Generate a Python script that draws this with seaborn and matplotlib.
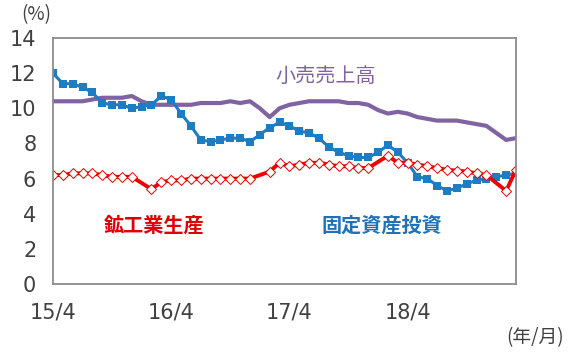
import numpy as np
import pandas as pd
import matplotlib
matplotlib.use("Agg")
import matplotlib.pyplot as plt
import seaborn as sns

# monthly series, 2015/4 .. 2019/3 (48 months)
months = list(range(48))
tick_pos = [0, 12, 24, 36]
tick_labels = ["15/4", "16/4", "17/4", "18/4"]

retail = [10.4, 10.4, 10.4, 10.4, 10.5, 10.6, 10.6, 10.6, 10.7, 10.4, 10.2, 10.2,
          10.2, 10.2, 10.2, 10.3, 10.3, 10.3, 10.4, 10.3, 10.4, 10.0, 9.5, 10.0,
          10.2, 10.3, 10.4, 10.4, 10.4, 10.4, 10.3, 10.3, 10.2, 9.9, 9.7, 9.8,
          9.7, 9.5, 9.4, 9.3, 9.3, 9.3, 9.2, 9.1, 9.0, 8.6, 8.2, 8.3]

fai = [12.0, 11.4, 11.4, 11.2, 10.9, 10.3, 10.2, 10.2, 10.0, 10.1, 10.2, 10.7,
       10.5, 9.7, 9.0, 8.2, 8.1, 8.2, 8.3, 8.3, 8.1, 8.5, 8.9, 9.2,
       9.0, 8.7, 8.6, 8.3, 7.8, 7.5, 7.3, 7.2, 7.2, 7.5, 7.9, 7.5,
       6.9, 6.1, 6.0, 5.6, 5.3, 5.45, 5.7, 5.9, 6.0, 6.1, 6.2, 6.3]

# January figures are not released (None)
ip = [6.2, 6.2, 6.3, 6.3, 6.3, 6.2, 6.1, 6.1, 6.1, None, 5.4, 5.8,
      5.9, 5.9, 6.0, 6.0, 6.0, 6.0, 6.0, 6.0, 6.0, None, 6.4, 6.9,
      6.7, 6.8, 6.9, 6.9, 6.8, 6.7, 6.7, 6.6, 6.6, None, 7.3, 6.9,
      6.9, 6.8, 6.7, 6.6, 6.5, 6.45, 6.4, 6.3, 6.2, None, 5.3, 6.5]

df = pd.DataFrame({"month": months, "retail": retail, "fai": fai,
                   "ip": pd.to_numeric(pd.Series(ip), errors="coerce")})

c_purple = "#8064A2"
c_blue = "#1C7CC4"
c_red = "#F00000"
c_text = "#404040"

sns.set_style("white")
plt.rcParams["font.family"] = ["Noto Sans CJK JP", "DejaVu Sans"]

fig = plt.figure(figsize=(5.69, 3.6), dpi=100)
ax = fig.add_axes([0.0931, 0.2111, 0.8137, 0.6833])

sns.lineplot(data=df, x="month", y="retail", color=c_purple, linewidth=3.0, ax=ax)
sns.lineplot(data=df, x="month", y="fai", color=c_blue, linewidth=2.2,
             marker="s", markersize=5.5, markeredgewidth=0, ax=ax)
ip_df = df.dropna(subset=["ip"])
sns.lineplot(data=ip_df, x="month", y="ip", color=c_red, linewidth=2.8,
             marker="D", markersize=5.4, markerfacecolor="white",
             markeredgecolor=c_red, markeredgewidth=0.7, ax=ax)

ax.set_xlim(0, 47)
ax.set_ylim(0, 14)
ax.set_yticks(range(0, 15, 2))
ax.set_xticks(tick_pos)
ax.set_xticklabels(tick_labels)
ax.set_xlabel("")
ax.set_ylabel("")

for s in ax.spines.values():
    s.set_visible(True)
    s.set_color("#8C8C8C")
    s.set_linewidth(1.3)
ax.tick_params(axis="both", direction="in", length=6, width=1.2, color="#8C8C8C",
               labelsize=15, labelcolor=c_text)
ax.tick_params(axis="y", pad=12)
ax.tick_params(axis="x", pad=13)
for lab in ax.get_xticklabels() + ax.get_yticklabels():
    lab.set_family(["DejaVu Sans"])

ax.text(27.7, 11.8, "小売売上高", color=c_purple, fontsize=14.5, ha="center", va="center")
ax.text(10.3, 3.35, "鉱工業生産", color="#E00000", fontsize=14.5, ha="center", va="center",
        fontweight="bold")
ax.text(33.4, 3.35, "固定資産投資", color="#1F72B8", fontsize=14.5, ha="center", va="center",
        fontweight="bold")

fig.text(36 / 569, 1 - 15 / 360, "(%)", color=c_text, fontsize=13.5, ha="center", va="center")
fig.text(535 / 569, 1 - 338 / 360, "(年/月)", color=c_text, fontsize=13.5, ha="center", va="center")

fig.savefig("out.png", dpi=100)
